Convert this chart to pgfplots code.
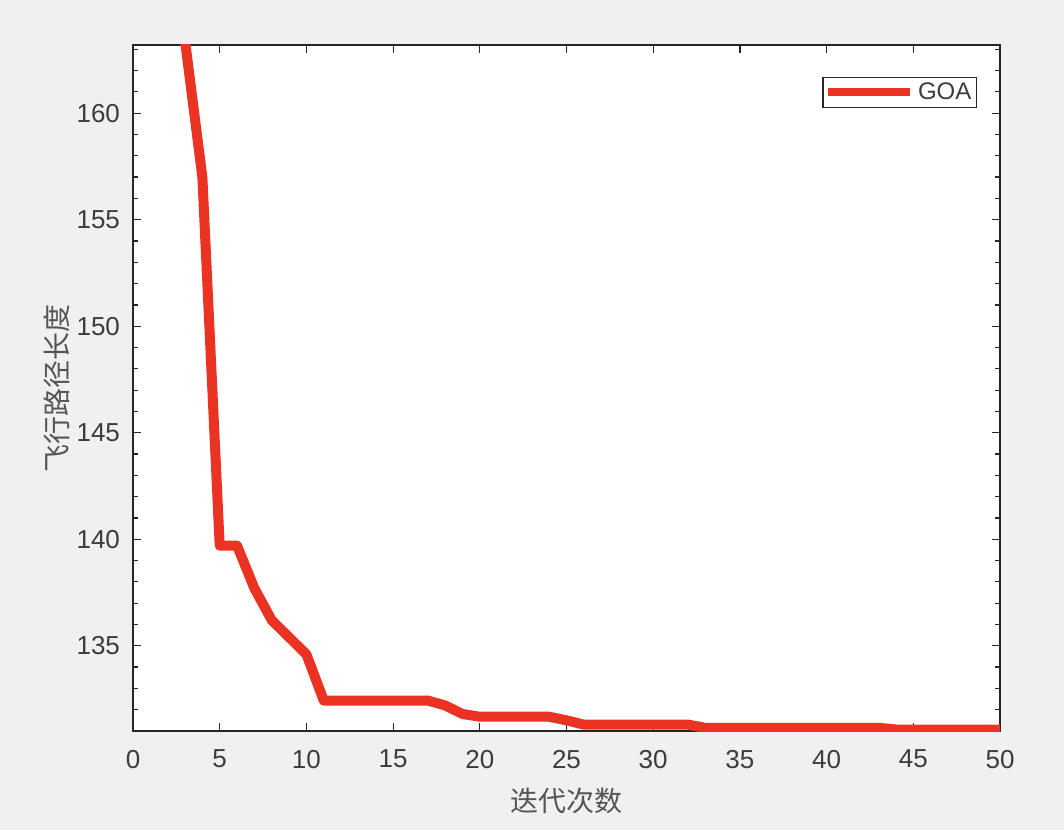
\documentclass[border=0pt]{standalone}
\usepackage{pgfplots}
\pgfplotsset{compat=1.18}
\usepackage{fontspec}
\setmainfont{Liberation Sans}
\newfontfamily\cjk{Noto Sans CJK SC}
\usetikzlibrary{backgrounds}
\definecolor{goared}{RGB}{235,51,36}
\definecolor{axgray}{RGB}{38,38,38}
\definecolor{ticktext}{RGB}{60,60,60}
\definecolor{labgray}{RGB}{85,85,85}
\definecolor{figbg}{RGB}{240,240,240}
\begin{document}
\begin{tikzpicture}
\begin{axis}[
  scale only axis, width=433.5pt, height=343pt,
  xmin=0, xmax=50, ymin=131.0, ymax=163.2,
  xtick={0,5,...,50}, ytick={135,140,...,160},
  minor ytick={131,132,...,163},
  tick align=inside, major tick length=4pt, minor tick length=2.5pt,
  axis background/.style={fill=white},
  axis line style={axgray, line width=0.6pt},
  every tick/.style={axgray, line width=0.6pt},
  tick label style={font=\fontsize{13}{13}\selectfont, text=ticktext},
  xticklabel style={yshift=-6pt},
  yticklabel style={xshift=-3pt},
  /pgf/number format/assume math mode=true,
  xlabel={\cjk 迭代次数}, ylabel={\cjk 飞行路径长度},
  label style={font=\fontsize{14}{14}\selectfont, text=labgray},
  xlabel style={yshift=-3pt},
  ylabel style={yshift=-3.5pt},
  legend style={at={(1,1)}, anchor=north east, xshift=-11.5pt, yshift=-16pt,
    draw=axgray, line width=0.6pt, font=\fontsize{12}{12}\selectfont, text=ticktext,
    inner sep=0.5pt},
  legend cell align=left,
  legend image code/.code={\draw[#1, line width=4pt] (0pt,0pt) -- (41pt,0pt);},
]
\addplot[goared, line width=5pt, line join=round] coordinates {
 (1,180) (2,171) (3,163.4) (4,157.0) (5,139.7) (6,139.7) (7,137.7) (8,136.2)
 (9,135.4) (10,134.6) (11,132.43) (12,132.43) (13,132.43) (14,132.43) (15,132.43)
 (16,132.43) (17,132.43) (18,132.2) (19,131.8) (20,131.67) (21,131.67) (22,131.67)
 (23,131.67) (24,131.67) (25,131.5) (26,131.3) (27,131.3) (28,131.3) (29,131.3)
 (30,131.3) (31,131.3) (32,131.3) (33,131.15) (34,131.15) (35,131.15) (36,131.15)
 (37,131.15) (38,131.15) (39,131.15) (40,131.15) (41,131.15) (42,131.15) (43,131.15)
 (44,131.07) (45,131.07) (46,131.07) (47,131.07) (48,131.07) (49,131.07) (50,131.07)
};
\addlegendentry{GOA}
\coordinate (sw) at (rel axis cs:0,0);
\coordinate (ne) at (rel axis cs:1,1);
\end{axis}
\begin{pgfonlayer}{background}
\fill[figbg] ([xshift=-66.5pt,yshift=-49.5pt]sw) rectangle ([xshift=32pt,yshift=22.5pt]ne);
\end{pgfonlayer}
\end{tikzpicture}
\end{document}
